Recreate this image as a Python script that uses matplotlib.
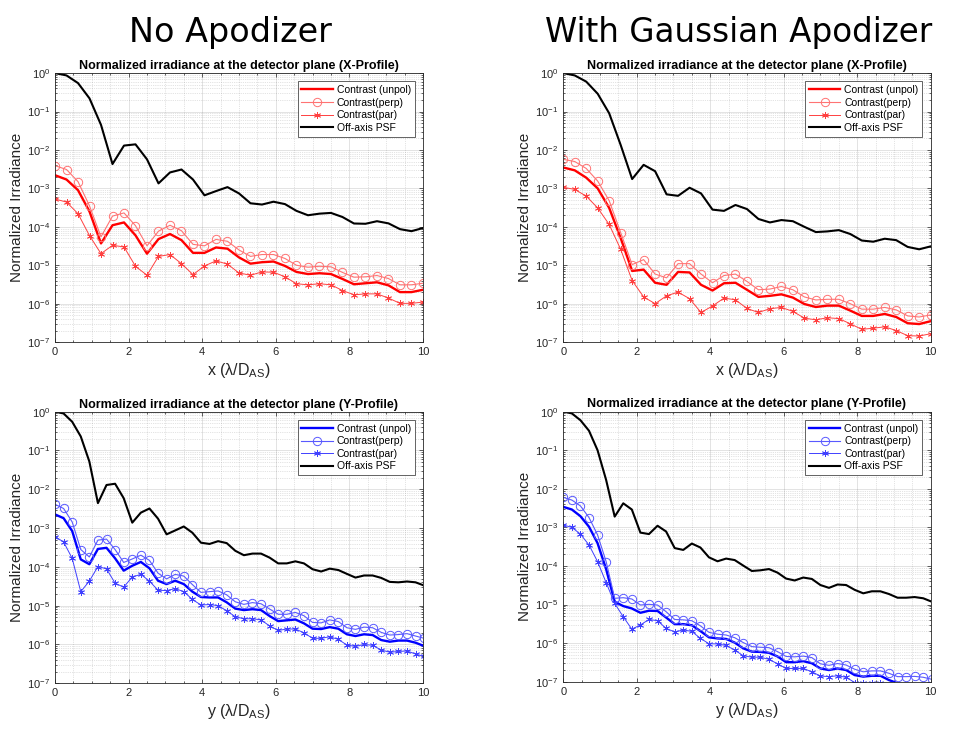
#
# Normalized irradiance profiles at the detector plane, with and without apodizer
#

import numpy as np
import matplotlib
matplotlib.use("Agg")
import matplotlib.pyplot as plt
from matplotlib.ticker import LogLocator, MultipleLocator, NullFormatter

plt.rcParams['font.family'] = ['Liberation Sans', 'DejaVu Sans']
plt.rcParams['mathtext.fontset'] = 'custom'
plt.rcParams['mathtext.rm'] = 'Liberation Sans'
plt.rcParams['mathtext.it'] = 'Liberation Sans:italic'

#
# Sample positions (lambda/D_AS)
#
x_pos = np.linspace(0, 10, 33)          # X-profile samples
y_step = 0.2333
y_pos = np.arange(44) * y_step          # Y-profile samples (last one falls just past 10)

#
# No apodizer, X-profile
#
noap_x_psf = [1.0, 0.87, 0.55, 0.22, 0.045, 0.0043, 0.013, 0.014, 0.0057, 0.00135,
              0.0026, 0.0031, 0.0017, 0.00066, 0.00085, 0.00108, 0.00074, 0.00041, 0.00038, 0.00045,
              0.00039, 0.00026, 0.0002, 0.00022, 0.00023, 0.00018, 0.000122, 0.00012, 0.00014, 0.000123,
              8.7e-5, 7.7e-5, 9.3e-5]
noap_x_perp = [3.9e-3, 3.1e-3, 1.5e-3, 3.5e-4, 5.5e-5, 1.9e-4, 2.3e-4, 1.07e-4, 3.2e-5, 7.7e-5,
               1.1e-4, 7.9e-5, 3.5e-5, 3.2e-5, 4.7e-5, 4.2e-5, 2.5e-5, 1.7e-5, 1.9e-5, 1.9e-5,
               1.5e-5, 1.0e-5, 8.9e-6, 9.4e-6, 9.1e-6, 6.5e-6, 4.9e-6, 5.0e-6, 5.4e-6, 4.5e-6,
               3.1e-6, 3.1e-6, 3.4e-6]
noap_x_unpol = [2.2e-3, 1.7e-3, 9e-4, 2.5e-4, 3.7e-5, 1.1e-4, 1.3e-4, 6e-5, 2.0e-5, 4.8e-5,
                6.5e-5, 4.5e-5, 2.1e-5, 2.1e-5, 2.9e-5, 2.7e-5, 1.6e-5, 1.1e-5, 1.2e-5, 1.25e-5,
                9.6e-6, 6.7e-6, 5.9e-6, 6.2e-6, 5.9e-6, 4.4e-6, 3.2e-6, 3.4e-6, 3.6e-6, 3.0e-6,
                2.0e-6, 2.0e-6, 2.3e-6]
noap_x_par = [5.3e-4, 4.4e-4, 2.2e-4, 5.9e-5, 2.0e-5, 3.3e-5, 3.0e-5, 9.4e-6, 5.5e-6, 1.7e-5,
              1.9e-5, 1.1e-5, 5.7e-6, 9.6e-6, 1.3e-5, 1.07e-5, 6.3e-6, 5.5e-6, 6.7e-6, 6.6e-6,
              5.0e-6, 3.3e-6, 3.1e-6, 3.3e-6, 3.1e-6, 2.2e-6, 1.7e-6, 1.8e-6, 1.8e-6, 1.4e-6,
              1.02e-6, 1.02e-6, 1.1e-6]

#
# Gaussian apodizer, X-profile
#
gaus_x_psf = [1.0, 0.87, 0.6, 0.29, 0.09, 0.0135, 0.00175, 0.0041, 0.0028, 0.0007,
              0.00064, 0.00104, 0.00074, 0.00028, 0.00026, 0.00037, 0.00029, 0.00016, 0.00013, 0.00015,
              0.00014, 1.0e-4, 7.3e-5, 7.6e-5, 8.2e-5, 6.5e-5, 4.4e-5, 4.1e-5, 4.9e-5, 4.5e-5,
              3.0e-5, 2.6e-5, 3.1e-5]
gaus_x_perp = [5.7e-3, 5.0e-3, 3.3e-3, 1.55e-3, 4.8e-4, 7.1e-5, 1.04e-5, 1.4e-5, 5.9e-6, 4.7e-6,
               1.1e-5, 1.1e-5, 5.9e-6, 3.5e-6, 5.4e-6, 5.9e-6, 3.8e-6, 2.3e-6, 2.4e-6, 2.8e-6,
               2.3e-6, 1.5e-6, 1.25e-6, 1.3e-6, 1.3e-6, 1.0e-6, 7.2e-7, 7.2e-7, 8.0e-7, 6.9e-7,
               4.8e-7, 4.5e-7, 5.1e-7]
gaus_x_unpol = [3.5e-3, 2.95e-3, 1.9e-3, 1.0e-3, 3.1e-4, 5.1e-5, 7.1e-6, 7.7e-6, 3.5e-6, 3.1e-6,
                6.7e-6, 6.5e-6, 3.1e-6, 2.2e-6, 3.4e-6, 3.5e-6, 2.3e-6, 1.5e-6, 1.6e-6, 1.75e-6,
                1.44e-6, 9.8e-7, 8.2e-7, 8.9e-7, 8.9e-7, 6.6e-7, 4.8e-7, 4.8e-7, 5.4e-7, 4.5e-7,
                3.1e-7, 2.95e-7, 3.5e-7]
gaus_x_par = [1.07e-3, 9.4e-4, 6.3e-4, 3.1e-4, 1.15e-4, 2.6e-5, 4.0e-6, 1.5e-6, 1.0e-6, 1.6e-6,
              2.0e-6, 1.35e-6, 5.9e-7, 8.7e-7, 1.4e-6, 1.26e-6, 7.5e-7, 5.9e-7, 7.4e-7, 8.0e-7,
              6.3e-7, 4.2e-7, 3.8e-7, 4.3e-7, 4.1e-7, 3.0e-7, 2.15e-7, 2.3e-7, 2.5e-7, 2.0e-7,
              1.47e-7, 1.44e-7, 1.65e-7]

#
# No apodizer, Y-profile
#
noap_y_psf = [1.0, 0.9, 0.55, 0.23, 0.052, 0.0044, 0.0129, 0.0139, 0.0059, 0.00138,
              0.0025, 0.0032, 0.00175, 0.00069, 0.00087, 0.0011, 0.00076, 0.00042, 0.00039, 0.00046,
              0.00041, 0.00026, 0.0002, 0.00022, 0.00022, 0.000173, 0.000123, 0.000123, 0.000139, 0.000123,
              8.7e-5, 7.6e-5, 9.0e-5, 8.3e-5, 6.6e-5, 5.3e-5, 6.0e-5, 6.0e-5, 5.2e-5, 4.1e-5,
              4.0e-5, 4.2e-5, 4.0e-5, 3.3e-5]
noap_y_perp = [4.1e-3, 3.2e-3, 1.44e-3, 2.8e-4, 1.8e-4, 4.9e-4, 5.2e-4, 2.8e-4, 1.3e-4, 1.6e-4,
               2.0e-4, 1.47e-4, 6.9e-5, 4.9e-5, 6.4e-5, 5.8e-5, 3.5e-5, 2.2e-5, 2.3e-5, 2.4e-5,
               1.9e-5, 1.26e-5, 1.08e-5, 1.2e-5, 1.12e-5, 8.2e-6, 6.0e-6, 6.0e-6, 6.7e-6, 5.5e-6,
               3.7e-6, 3.6e-6, 4.3e-6, 3.9e-6, 2.7e-6, 2.45e-6, 2.8e-6, 2.7e-6, 2.05e-6, 1.75e-6,
               1.8e-6, 1.9e-6, 1.65e-6, 1.44e-6]
noap_y_unpol = [2.25e-3, 1.8e-3, 8.4e-4, 1.56e-4, 1.17e-4, 2.9e-4, 3.1e-4, 1.66e-4, 8.0e-5, 1.07e-4,
                1.34e-4, 9.2e-5, 4.4e-5, 3.6e-5, 4.4e-5, 3.6e-5, 2.3e-5, 1.67e-5, 1.63e-5, 1.63e-5,
                1.22e-5, 8.4e-6, 7.7e-6, 8.1e-6, 7.7e-6, 5.4e-6, 4.0e-6, 4.2e-6, 4.4e-6, 3.5e-6,
                2.55e-6, 2.5e-6, 2.8e-6, 2.55e-6, 1.83e-6, 1.65e-6, 1.83e-6, 1.75e-6, 1.3e-6, 1.18e-6,
                1.26e-6, 1.26e-6, 1.11e-6, 9.1e-7]
noap_y_par = [6.0e-4, 4.4e-4, 1.66e-4, 2.3e-5, 4.3e-5, 1.02e-4, 8.9e-5, 3.8e-5, 3.0e-5, 5.5e-5,
              6.4e-5, 4.3e-5, 2.5e-5, 2.45e-5, 2.75e-5, 2.3e-5, 1.45e-5, 1.04e-5, 1.07e-5, 1.0e-5,
              7.4e-6, 5.2e-6, 4.6e-6, 4.6e-6, 4.3e-6, 3.0e-6, 2.3e-6, 2.5e-6, 2.5e-6, 2.0e-6,
              1.44e-6, 1.44e-6, 1.58e-6, 1.35e-6, 9.7e-7, 8.9e-7, 1.0e-6, 9.5e-7, 7.2e-7, 6.3e-7,
              6.6e-7, 6.8e-7, 5.7e-7, 4.9e-7]

#
# Gaussian apodizer, Y-profile
#
gaus_y_psf = [1.0, 0.9, 0.6, 0.32, 0.10, 0.017, 0.0019, 0.0042, 0.0029, 0.00073,
              0.00067, 0.0011, 0.00078, 0.00029, 0.00026, 0.00038, 0.0003, 0.000167, 0.000132, 0.000155,
              0.000142, 1.02e-4, 7.4e-5, 7.7e-5, 8.3e-5, 6.7e-5, 4.7e-5, 4.2e-5, 5.0e-5, 4.6e-5,
              3.2e-5, 2.7e-5, 3.3e-5, 3.2e-5, 2.4e-5, 1.95e-5, 2.2e-5, 2.2e-5, 1.87e-5, 1.5e-5,
              1.5e-5, 1.56e-5, 1.45e-5, 1.18e-5]
gaus_y_perp = [6.0e-3, 5.1e-3, 3.6e-3, 1.8e-3, 6.4e-4, 1.3e-4, 1.45e-5, 1.5e-5, 1.39e-5, 9.7e-6,
               1.01e-5, 9.7e-6, 6.5e-6, 4.1e-6, 4.0e-6, 3.8e-6, 2.8e-6, 1.9e-6, 1.7e-6, 1.62e-6,
               1.38e-6, 1.03e-6, 8.1e-7, 7.8e-7, 7.6e-7, 6.0e-7, 4.5e-7, 4.4e-7, 4.6e-7, 4.2e-7,
               2.9e-7, 2.65e-7, 2.95e-7, 2.7e-7, 2.1e-7, 1.8e-7, 1.9e-7, 1.9e-7, 1.65e-7, 1.35e-7,
               1.35e-7, 1.37e-7, 1.3e-7, 1.15e-7]
gaus_y_unpol = [3.4e-3, 2.9e-3, 1.95e-3, 1.04e-3, 3.9e-4, 8.3e-5, 1.18e-5, 9.1e-6, 7.9e-6, 6.1e-6,
                6.9e-6, 6.8e-6, 4.6e-6, 3.1e-6, 3.1e-6, 2.9e-6, 2.05e-6, 1.41e-6, 1.32e-6, 1.28e-6,
                1.03e-6, 7.3e-7, 6.0e-7, 5.9e-7, 5.6e-7, 4.5e-7, 3.2e-7, 3.2e-7, 3.4e-7, 3.0e-7,
                2.2e-7, 2.0e-7, 2.2e-7, 2.0e-7, 1.48e-7, 1.35e-7, 1.42e-7, 1.42e-7, 1.1e-7, 9.1e-8,
                8e-8, 8e-8, 7.5e-8, 6.5e-8]
gaus_y_par = [1.15e-3, 1.0e-3, 6.7e-4, 3.5e-4, 1.3e-4, 3.7e-5, 1.07e-5, 4.8e-6, 2.3e-6, 2.95e-6,
              4.1e-6, 3.8e-6, 2.4e-6, 1.94e-6, 2.2e-6, 2.0e-6, 1.33e-6, 9.6e-7, 9.5e-7, 8.7e-7,
              6.6e-7, 4.7e-7, 4.3e-7, 4.3e-7, 3.8e-7, 2.9e-7, 2.2e-7, 2.2e-7, 2.2e-7, 1.8e-7,
              1.4e-7, 1.35e-7, 1.42e-7, 1.3e-7, 9.5e-8, 9e-8, 9.5e-8, 9.5e-8, 7.5e-8, 6.5e-8,
              6.5e-8, 6.6e-8, 6e-8, 5e-8]

legend_labels = ['Contrast (unpol)', 'Contrast(perp)', 'Contrast(par)', 'Off-axis PSF']

red_set = {'unpol': (1, 0, 0), 'perp': (1, 0.45, 0.45), 'par': (1, 0.25, 0.25)}
blue_set = {'unpol': (0, 0, 1), 'perp': (0.35, 0.35, 1), 'par': (0.25, 0.25, 1)}

asterisk = (6, 2, 0)


def draw_panel(ax, pos, unpol, perp, par, psf, colors, title, xname):
    ax.semilogy(pos, unpol, '-', color=colors['unpol'], lw=1.7, label=legend_labels[0])
    ax.semilogy(pos, perp, '-', color=colors['perp'], lw=0.8, marker='o', ms=6,
                mfc='none', mec=colors['perp'], mew=0.7, label=legend_labels[1])
    ax.semilogy(pos, par, '-', color=colors['par'], lw=0.7, marker=asterisk, ms=5,
                mec=colors['par'], mew=0.6, label=legend_labels[2])
    ax.semilogy(pos, psf, '-', color='k', lw=1.5, label=legend_labels[3])

    ax.set_xlim(0, 10)
    ax.set_ylim(1e-7, 1)
    ax.xaxis.set_major_locator(MultipleLocator(2))
    ax.xaxis.set_minor_locator(MultipleLocator(0.5))
    ax.yaxis.set_major_locator(LogLocator(base=10, numticks=20))
    ax.yaxis.set_minor_locator(LogLocator(base=10, subs=np.arange(2, 10), numticks=20))
    ax.yaxis.set_minor_formatter(NullFormatter())

    ax.grid(True, which='major', color=(0.15, 0.15, 0.15), alpha=0.15, lw=0.6)
    ax.grid(True, which='minor', color=(0.15, 0.15, 0.15), alpha=0.25, lw=0.5, ls=':')
    ax.set_axisbelow(True)

    ax.tick_params(which='both', direction='in', top=True, right=True,
                   colors=(0.15, 0.15, 0.15), labelsize=8, width=0.5)
    ax.tick_params(which='major', length=3)
    ax.tick_params(which='minor', length=1.5)
    for sp in ax.spines.values():
        sp.set_color((0.15, 0.15, 0.15))
        sp.set_linewidth(0.6)

    ax.set_title(title, fontsize=9, fontweight='bold', pad=3)
    ax.set_xlabel(xname + r' (λ/D$_{\mathregular{AS}}$)', fontsize=11.5, color=(0.15, 0.15, 0.15), labelpad=3)
    ax.set_ylabel('Normalized Irradiance', fontsize=11, color=(0.15, 0.15, 0.15), labelpad=2)

    leg = ax.legend(loc='upper right', fontsize=7.5, fancybox=False, framealpha=1,
                    edgecolor=(0.15, 0.15, 0.15), borderaxespad=0.8, handlelength=3.0,
                    labelspacing=0.25, borderpad=0.35, handletextpad=0.4)
    leg.get_frame().set_linewidth(0.5)


fig = plt.figure(figsize=(9.55, 7.31), dpi=100)

ax1 = fig.add_axes([0.0576, 0.532, 0.3853, 0.368])
ax2 = fig.add_axes([0.5898, 0.532, 0.3847, 0.368])
ax3 = fig.add_axes([0.0576, 0.0653, 0.3853, 0.3715])
ax4 = fig.add_axes([0.5898, 0.0675, 0.3847, 0.3694])

draw_panel(ax1, x_pos, noap_x_unpol, noap_x_perp, noap_x_par, noap_x_psf, red_set,
           'Normalized irradiance at the detector plane (X-Profile)', 'x')
draw_panel(ax2, x_pos, gaus_x_unpol, gaus_x_perp, gaus_x_par, gaus_x_psf, red_set,
           'Normalized irradiance at the detector plane (X-Profile)', 'x')
draw_panel(ax3, y_pos, noap_y_unpol, noap_y_perp, noap_y_par, noap_y_psf, blue_set,
           'Normalized irradiance at the detector plane (Y-Profile)', 'y')
draw_panel(ax4, y_pos, gaus_y_unpol, gaus_y_perp, gaus_y_par, gaus_y_psf, blue_set,
           'Normalized irradiance at the detector plane (Y-Profile)', 'y')

#
# Column headings
#
fig.text(0.241, 0.955, 'No Apodizer', fontsize=24, family='DejaVu Sans', ha='center', va='center')
fig.text(0.773, 0.955, 'With Gaussian Apodizer', fontsize=23.5, family='DejaVu Sans', ha='center', va='center')

fig.savefig('out.png', dpi=100)
